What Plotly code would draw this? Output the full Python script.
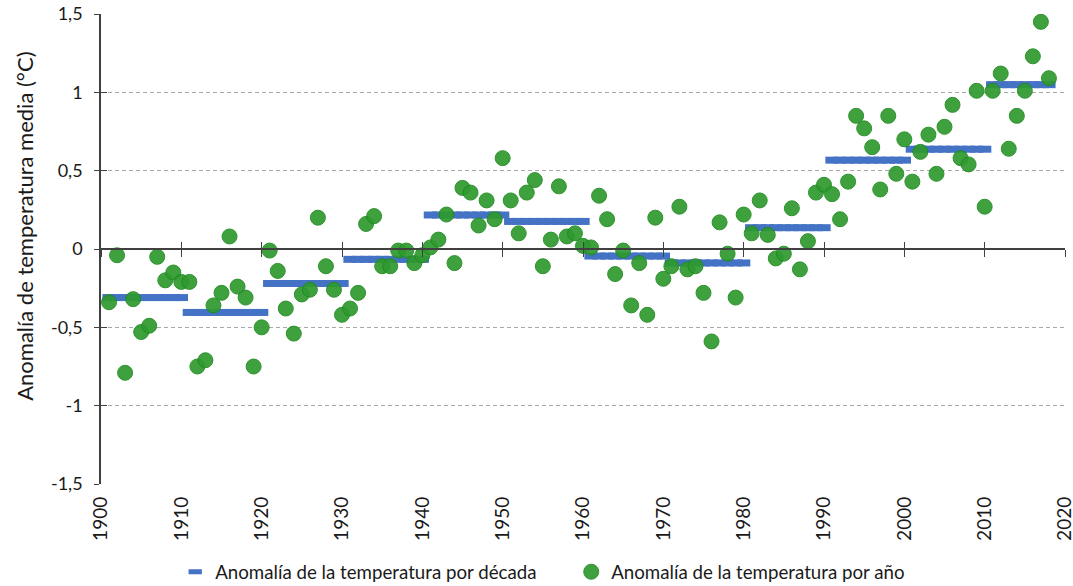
import plotly.graph_objects as go

# ---- data ----
years = list(range(1901, 2019))
annual_anomaly = [
    -0.34, -0.04, -0.79, -0.32, -0.53, -0.49, -0.05, -0.20, -0.15, -0.21,   # 1901-1910
    -0.21, -0.75, -0.71, -0.36, -0.28, 0.08, -0.24, -0.31, -0.75, -0.50,    # 1911-1920
    -0.01, -0.14, -0.38, -0.54, -0.29, -0.26, 0.20, -0.11, -0.26, -0.42,    # 1921-1930
    -0.38, -0.28, 0.16, 0.21, -0.11, -0.11, -0.01, -0.01, -0.09, -0.04,     # 1931-1940
    0.01, 0.06, 0.22, -0.09, 0.39, 0.36, 0.15, 0.31, 0.19, 0.58,            # 1941-1950
    0.31, 0.10, 0.36, 0.44, -0.11, 0.06, 0.40, 0.08, 0.10, 0.02,            # 1951-1960
    0.01, 0.34, 0.19, -0.16, -0.01, -0.36, -0.09, -0.42, 0.20, -0.19,       # 1961-1970
    -0.11, 0.27, -0.13, -0.11, -0.28, -0.59, 0.17, -0.03, -0.31, 0.22,      # 1971-1980
    0.10, 0.31, 0.09, -0.06, -0.03, 0.26, -0.13, 0.05, 0.36, 0.41,          # 1981-1990
    0.35, 0.19, 0.43, 0.85, 0.77, 0.65, 0.38, 0.85, 0.48, 0.70,             # 1991-2000
    0.43, 0.62, 0.73, 0.48, 0.78, 0.92, 0.58, 0.54, 1.01, 0.27,             # 2001-2010
    1.01, 1.12, 0.64, 0.85, 1.01, 1.23, 1.45, 1.09,                         # 2011-2018
]
decade_starts = [1901, 1911, 1921, 1931, 1941, 1951, 1961, 1971, 1981, 1991, 2001, 2011]
decade_means = [-0.31, -0.405, -0.22, -0.066, 0.217, 0.176, -0.045, -0.089, 0.136, 0.567, 0.637, 1.049]

x_ticks = [1900, 1910, 1920, 1930, 1940, 1950, 1960, 1970, 1980, 1990, 2000, 2010, 2020]
x_ticktext = ["1900", "1910", "1920", "1930", "1940", "1950", "1960", "1970", "1980", "1990", "2000", "2010", "2020"]
y_ticks = [-1.5, -1, -0.5, 0, 0.5, 1, 1.5]
y_ticktext = ["-1,5", "-1", "-0,5", "0", "0,5", "1", "1,5"]

series_decade = "Anomalía de la temperatura por década"
series_annual = "Anomalía de la temperatura por año"
y_title = "Anomalía de temperatura media (°C)"

# decade value repeated for each year of its decade
decade_per_year = []
for y in years:
    idx = max(i for i, d in enumerate(decade_starts) if d <= y)
    decade_per_year.append(decade_means[idx])

FONT = "Lato"
TXT = "#1a1a1a"
AXC = "#404040"
BLUE = "#4472C4"
GREEN = "#2e9a2e"

fig = go.Figure()
fig.add_trace(go.Scatter(
    x=years, y=decade_per_year, mode="markers", name=series_decade,
    marker=dict(symbol="line-ew", size=9.5, color=BLUE, line=dict(width=7, color=BLUE)),
    hoverinfo="skip",
))
fig.add_trace(go.Scatter(
    x=years, y=annual_anomaly, mode="markers", name=series_annual,
    marker=dict(symbol="circle", size=15, color=GREEN, opacity=0.92,
                line=dict(width=1, color="#1f8a1f")),
))
# helper traces so that the overlay axes (ticks crossing the zero line) are drawn
fig.add_trace(go.Scatter(x=[None], y=[None], xaxis="x2", yaxis="y2", showlegend=False, hoverinfo="skip"))
fig.add_trace(go.Scatter(x=[None], y=[None], xaxis="x3", yaxis="y", showlegend=False, hoverinfo="skip"))

xr = [1900, 2020]
fig.update_layout(
    width=1073, height=586,
    margin=dict(l=101, r=8, t=14, b=102, autoexpand=False),
    paper_bgcolor="white", plot_bgcolor="white",
    font=dict(family=FONT, size=18, color=TXT),
    separators=",.",
    showlegend=True,
    legend=dict(orientation="h", x=0.077, xanchor="left", y=-0.147, yanchor="top",
                font=dict(family=FONT, size=18.7, color=TXT), entrywidth=351,
                bgcolor="rgba(0,0,0,0)"),
    xaxis=dict(range=xr, tickvals=x_ticks, ticktext=x_ticktext, tickangle=-90,
               showgrid=False, zeroline=False, showline=False, ticks="", automargin=False,
               ticklabelstandoff=8, ticklabeloverflow="allow",
               tickfont=dict(family=FONT, size=19, color=TXT)),
    xaxis2=dict(range=xr, overlaying="x", anchor="free", position=0.5, side="bottom",
                tickvals=x_ticks, ticks="outside", ticklen=7, tickwidth=1.3, tickcolor=AXC,
                showline=True, linecolor=AXC, linewidth=1.5, showticklabels=False,
                showgrid=False, zeroline=False, automargin=False),
    xaxis3=dict(range=xr, overlaying="x", anchor="free", position=0.5, side="bottom",
                tickvals=x_ticks, ticks="inside", ticklen=7, tickwidth=1.3, tickcolor=AXC,
                showline=False, showticklabels=False, showgrid=False, zeroline=False,
                automargin=False),
    yaxis=dict(range=[-1.5, 1.5], tickvals=y_ticks, ticktext=y_ticktext,
               ticks="outside", ticklen=5, tickwidth=1.3, tickcolor=AXC,
               showline=True, linecolor=AXC, linewidth=1.5,
               showgrid=True, gridcolor="#a8a8a8", gridwidth=1, griddash="4px,3px",
               zeroline=False, ticklabelstandoff=8, automargin=False,
               tickfont=dict(family=FONT, size=18, color=TXT)),
    yaxis2=dict(range=[-1.5, 1.5], overlaying="y", anchor="x", side="left",
                tickvals=y_ticks, ticks="inside", ticklen=6, tickwidth=1.3, tickcolor=AXC,
                showticklabels=False, showline=False, showgrid=False, zeroline=False,
                automargin=False),
    annotations=[dict(text=y_title, textangle=-90, xref="paper", yref="paper",
                      x=-0.079, y=0.549, xanchor="center", yanchor="middle",
                      showarrow=False, font=dict(family=FONT, size=22, color=TXT))],
)

fig.write_html(
    "out.html",
    config={"displayModeBar": False},
    post_script="document.body.style.margin='0';document.body.style.padding='0';"
                "document.body.style.overflow='hidden';",
)
